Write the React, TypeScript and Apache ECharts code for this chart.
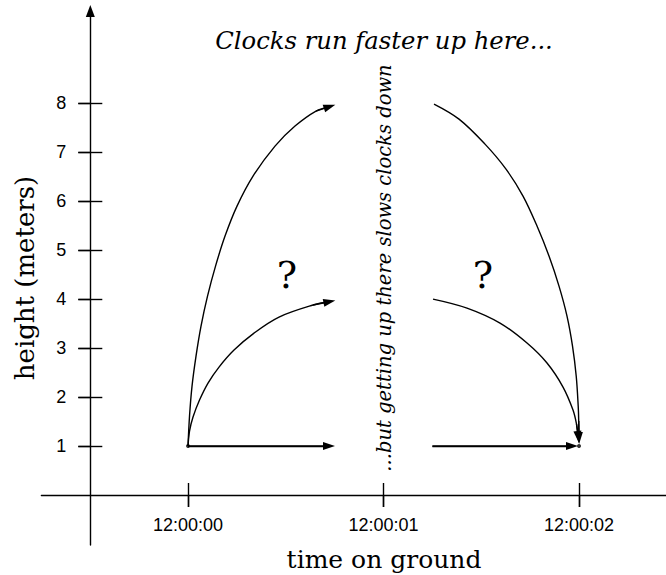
import React, { useEffect, useRef } from 'react';
import * as echarts from 'echarts';

// Tick positions (seconds after 12:00:00) and their labels
const xTickValues = [0, 1, 2];
const xTickLabels = ['12:00:00', '12:00:01', '12:00:02'];
const yTickValues = [1, 2, 3, 4, 5, 6, 7, 8];

// Paths (time in seconds after 12:00:00, height in meters)
const groundLeft = [[0, 1], [0.721, 1]];
const midLeft = [[0, 1], [0.0077, 1.306], [0.0256, 1.592], [0.0588, 1.939], [0.1023, 2.286], [0.1586, 2.612], [0.2353, 2.959], [0.3376, 3.306], [0.4655, 3.633], [0.6394, 3.878], [0.7233, 3.945]];
const highLeft = [[0, 1], [0.0077, 1.612], [0.0205, 2.224], [0.0409, 2.837], [0.0665, 3.449], [0.0997, 4.061], [0.1407, 4.673], [0.1893, 5.286], [0.2506, 5.898], [0.3325, 6.51], [0.445, 7.122], [0.5473, 7.531], [0.6547, 7.837], [0.7243, 7.929]];
const groundRight = [[1.25, 1], [1.964, 1]];
const midRight = [[1.2532, 4.0], [1.4271, 3.816], [1.5959, 3.51], [1.734, 3.102], [1.8363, 2.694], [1.9182, 2.204], [1.9693, 1.735], [1.9872, 1.449], [1.9959, 1.184]];
const highRight = [[1.2583, 7.98], [1.3862, 7.673], [1.5192, 7.163], [1.6266, 6.653], [1.7136, 6.102], [1.7852, 5.49], [1.8465, 4.878], [1.8977, 4.265], [1.9386, 3.653], [1.9668, 3.041], [1.9857, 2.429], [1.9959, 1.816], [1.9985, 1.51], [2.0, 1.163]];
const clockPoints = [[0, 1], [2, 1]];

const titleText = 'Clocks run faster up here...';
const sideText = '...but getting up there slows clocks down';
const xName = 'time on ground';
const yName = 'height (meters)';
const questionMark = '?';

const BLACK = '#000';
const LW = 1.4;

function curveSeries(data: number[][]) {
  const n = data.length;
  return {
    type: 'line',
    data,
    smooth: 0.35,
    symbol: 'none',
    showSymbol: false,
    silent: true,
    z: 3,
    lineStyle: { color: BLACK, width: LW },
    markLine: {
      silent: true,
      symbol: ['none', 'triangle'],
      symbolSize: [8, 12],
      label: { show: false },
      emphasis: { disabled: true },
      lineStyle: { color: BLACK, width: LW, type: 'solid' },
      data: [[{ coord: data[n - 2] }, { coord: data[n - 1] }]],
    },
  };
}

function textEl(text: string, x: number, y: number, font: string, rotation = 0) {
  return {
    type: 'text',
    x,
    y,
    rotation,
    silent: true,
    style: {
      text,
      font,
      fill: BLACK,
      align: 'center',
      verticalAlign: 'middle',
      textAlign: 'center',
      textVerticalAlign: 'middle',
    },
  };
}

export default function App() {
  const ref = useRef<HTMLDivElement>(null);
  useEffect(() => {
    if (!ref.current) return;
    const chart = echarts.init(ref.current, null, { renderer: 'svg' });
    const tickLabelStyle = { color: BLACK, fontSize: 18, fontFamily: 'Liberation Sans, Arial, sans-serif' };
    const xMin = -0.75, xMax = 2.5033, yMin = -1.02, yMax = 9.88;
    const lineStyle = { color: BLACK, width: LW };
    const commonX = { type: 'value', min: xMin, max: xMax, position: 'bottom', splitLine: { show: false } };
    const commonY = { type: 'value', min: yMin, max: yMax, position: 'left', splitLine: { show: false } };
    chart.setOption({
      animation: false,
      backgroundColor: '#fff',
      grid: { left: 41.4, top: 11, width: 636, height: 534, containLabel: false, outerBoundsMode: 'none' },
      xAxis: [
        {
          ...commonX,
          offset: -50,
          axisLine: { show: true, onZero: false, lineStyle, symbol: ['none', 'triangle'], symbolSize: [9, 12] },
          axisTick: { show: true, customValues: xTickValues, length: 12, lineStyle },
          axisLabel: {
            ...tickLabelStyle,
            customValues: xTickValues,
            margin: 21,
            formatter: (v: number) => xTickLabels[xTickValues.indexOf(Math.round(v))] ?? '',
          },
        },
        {
          ...commonX,
          offset: -62,
          axisLine: { show: false, onZero: false },
          axisTick: { show: true, customValues: xTickValues, length: 24, lineStyle },
          axisLabel: { show: false },
        },
      ],
      yAxis: [
        {
          ...commonY,
          offset: -48.9,
          axisLine: { show: true, onZero: false, lineStyle, symbol: ['none', 'triangle'], symbolSize: [9, 12] },
          axisTick: { show: true, customValues: yTickValues, length: 12, lineStyle },
          axisLabel: { ...tickLabelStyle, customValues: yTickValues, margin: 24 },
        },
        {
          ...commonY,
          offset: -60.9,
          axisLine: { show: false, onZero: false },
          axisTick: { show: true, customValues: yTickValues, length: 24, lineStyle },
          axisLabel: { show: false },
        },
      ],
      series: [
        curveSeries(groundLeft),
        curveSeries(midLeft),
        curveSeries(highLeft),
        curveSeries(groundRight),
        curveSeries(midRight),
        curveSeries(highRight),
        {
          type: 'scatter',
          data: clockPoints,
          symbol: 'circle',
          symbolSize: 4,
          silent: true,
          z: 4,
          itemStyle: { color: BLACK },
        },
      ],
      graphic: [
        textEl(titleText, 384, 40, 'italic 24.3px "DejaVu Serif"'),
        textEl(sideText, 384, 268, 'italic 19.5px "DejaVu Serif"', Math.PI / 2),
        textEl(xName, 384, 559, '25px "DejaVu Serif"'),
        textEl(yName, 25, 278, '26px "DejaVu Serif"', Math.PI / 2),
        textEl(questionMark, 287, 275, '38px "DejaVu Serif"'),
        textEl(questionMark, 483, 275, '38px "DejaVu Serif"'),
      ],
    });
    return () => chart.dispose();
  }, []);
  return <div ref={ref} style={{ position: 'fixed', left: 0, top: 0, width: 666, height: 575 }} />;
}
